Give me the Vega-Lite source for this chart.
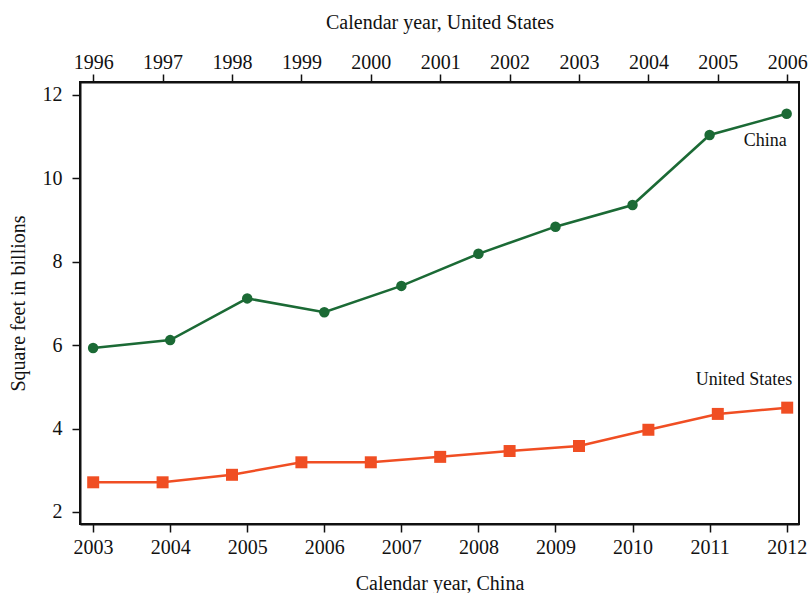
{
  "$schema": "https://vega.github.io/schema/vega-lite/v6.json",
  "width": 719,
  "height": 442,
  "autosize": {"type": "none"},
  "padding": {"left": 80, "top": 82, "right": 11, "bottom": 69},
  "background": "white",
  "config": {
    "font": "Liberation Serif",
    "view": {"stroke": "#111", "strokeWidth": 2},
    "axis": {
      "grid": false,
      "domainColor": "#111",
      "domainWidth": 2,
      "tickColor": "#111",
      "tickWidth": 1.5,
      "tickSize": 8,
      "labelFont": "Liberation Serif",
      "labelFontSize": 20,
      "labelColor": "#111",
      "titleFont": "Liberation Serif",
      "titleFontSize": 20,
      "titleFontWeight": "normal",
      "titleColor": "#111"
    }
  },
  "datasets": {
    "china": [
      {"year": 2003, "value": 5.93},
      {"year": 2004, "value": 6.12},
      {"year": 2005, "value": 7.12},
      {"year": 2006, "value": 6.79},
      {"year": 2007, "value": 7.42},
      {"year": 2008, "value": 8.19},
      {"year": 2009, "value": 8.84},
      {"year": 2010, "value": 9.36},
      {"year": 2011, "value": 11.04},
      {"year": 2012, "value": 11.55}
    ],
    "us": [
      {"year": 1996, "value": 2.71},
      {"year": 1997, "value": 2.71},
      {"year": 1998, "value": 2.89},
      {"year": 1999, "value": 3.19},
      {"year": 2000, "value": 3.19},
      {"year": 2001, "value": 3.32},
      {"year": 2002, "value": 3.46},
      {"year": 2003, "value": 3.58},
      {"year": 2004, "value": 3.97},
      {"year": 2005, "value": 4.35},
      {"year": 2006, "value": 4.5}
    ]
  },
  "layer": [
    {
      "data": {"name": "china"},
      "encoding": {
        "x": {
          "field": "year",
          "type": "quantitative",
          "scale": {"domain": [2002.83, 2012.16], "nice": false, "zero": false},
          "axis": {
            "orient": "bottom",
            "title": "Calendar year, China",
            "values": [2003, 2004, 2005, 2006, 2007, 2008, 2009, 2010, 2011, 2012],
            "format": "d",
            "labelPadding": 5,
            "titlePadding": 16
          }
        },
        "y": {
          "field": "value",
          "type": "quantitative",
          "scale": {"domain": [1.71, 12.31], "nice": false, "zero": false},
          "axis": {
            "title": "Square feet in billions",
            "values": [2, 4, 6, 8, 10, 12],
            "labelPadding": 10,
            "titlePadding": 14
          }
        }
      },
      "layer": [
        {"mark": {"type": "line", "color": "#1b6a35", "strokeWidth": 2.5}},
        {"mark": {"type": "point", "shape": "circle", "filled": true, "opacity": 1, "color": "#1b6a35", "size": 110}},
        {
          "transform": [{"filter": "datum.year == 2012"}],
          "mark": {"type": "text", "align": "right", "baseline": "middle", "dx": 0, "dy": 27, "fontSize": 18, "color": "#111"},
          "encoding": {"text": {"value": "China"}}
        }
      ]
    },
    {
      "data": {"name": "us"},
      "encoding": {
        "x": {
          "field": "year",
          "type": "quantitative",
          "scale": {"domain": [1995.81, 2006.17], "nice": false, "zero": false},
          "axis": {
            "orient": "top",
            "title": "Calendar year, United States",
            "values": [1996, 1997, 1998, 1999, 2000, 2001, 2002, 2003, 2004, 2005, 2006],
            "format": "d",
            "labelPadding": 2,
            "titlePadding": 20
          }
        },
        "y": {"field": "value", "type": "quantitative"}
      },
      "layer": [
        {"mark": {"type": "line", "color": "#f04e23", "strokeWidth": 2.5}},
        {"mark": {"type": "point", "shape": "square", "filled": true, "opacity": 1, "color": "#f04e23", "size": 144}},
        {
          "transform": [{"filter": "datum.year == 2006"}],
          "mark": {"type": "text", "align": "right", "baseline": "middle", "dx": 5, "dy": -28, "fontSize": 18, "color": "#111"},
          "encoding": {"text": {"value": "United States"}}
        }
      ]
    }
  ],
  "resolve": {"scale": {"x": "independent"}, "axis": {"x": "independent"}}
}
